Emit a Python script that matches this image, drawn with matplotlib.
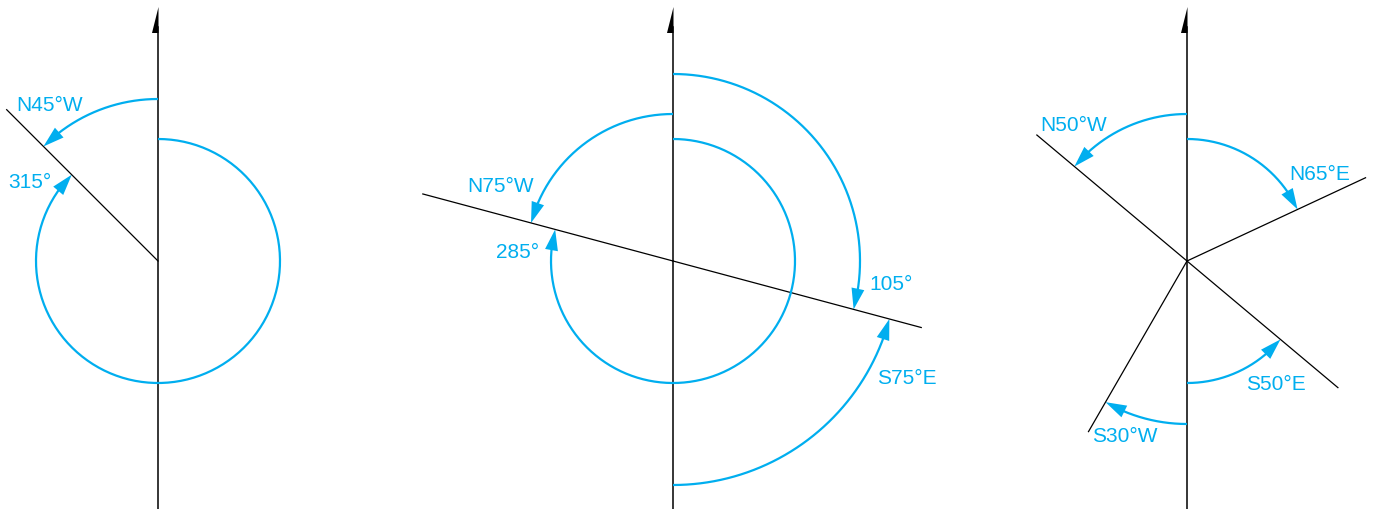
import numpy as np
import matplotlib.pyplot as plt
from matplotlib.patches import Polygon

plt.rcParams['font.family'] = ['Liberation Sans', 'DejaVu Sans']

CYAN = '#00aeef'

# panel centres (px) and north line extent
centers = [(158, 261), (673, 261), (1187, 261)]
north_top = 7

# black bearing lines: panel, bearing (deg clockwise from N), length
ray_panel = [0, 1, 1, 2, 2, 2, 2]
ray_bearing = [315, 285, 105, 310, 130, 65, 210]
ray_len = [214, 259, 257, 196, 197, 197, 197]

# cyan arcs: panel, radius, start bearing, end bearing
arc_panel = [0, 0, 1, 1, 1, 1, 2, 2, 2, 2]
arc_radius = [162, 122, 147, 122, 187, 224, 147, 122, 122, 163]
arc_start = [0, 0, 0, 0, 0, 180, 0, 0, 180, 180]
arc_end = [-45, 315, -75, 285, 105, 105, -50, 65, 130, 210]

labels = ['N45°W', '315°', 'N75°W', '285°', '105°', 'S75°E',
          'N50°W', 'N65°E', 'S50°E', 'S30°W']
label_xy = [(50, 105), (30, 183), (501, 186), (518, 253), (891, 285),
            (907, 378), (1074, 125), (1320, 174), (1276, 385), (1125, 436)]


def pt(c, r, b):
    t = np.radians(b)
    return c[0] + r * np.sin(t), c[1] - r * np.cos(t)


fig = plt.figure(figsize=(13.74, 5.09), dpi=100)
ax = fig.add_axes([0, 0, 1, 1])
ax.set_xlim(0, 1374)
ax.set_ylim(509, 0)
ax.axis('off')

# north lines with half arrowheads
for cx, cy in centers:
    ax.plot([cx, cx], [north_top + 20, 509], color='black', lw=1.1)
    ax.add_patch(Polygon([(cx + 0.5, north_top), (cx - 6, north_top + 26),
                          (cx + 0.5, north_top + 26)], closed=True,
                         facecolor='black', edgecolor='none'))

for p, b, L in zip(ray_panel, ray_bearing, ray_len):
    c = centers[p]
    x1, y1 = pt(c, L, b)
    ax.plot([c[0], x1], [c[1], y1], color='black', lw=0.9)

head_len, head_w = 21, 6.5
for p, r, b0, b1 in zip(arc_panel, arc_radius, arc_start, arc_end):
    c = centers[p]
    s = np.sign(b1 - b0)
    dtheta = np.degrees(head_len / r)
    bb = np.linspace(b0, b1 - s * dtheta * 0.9, 200)
    xs, ys = pt(c, r, bb)
    ax.plot(xs, ys, color=CYAN, lw=1.6, solid_capstyle='butt')
    # arrowhead
    tip = np.array(pt(c, r, b1))
    base = np.array(pt(c, r, b1 - s * dtheta))
    d = tip - base
    d /= np.hypot(*d)
    n = np.array([-d[1], d[0]])
    ax.add_patch(Polygon([tip, base + n * head_w, base - n * head_w],
                         closed=True, facecolor=CYAN, edgecolor='none'))

for t, (x, y) in zip(labels, label_xy):
    ax.text(x, y, t, color=CYAN, fontsize=15, ha='center', va='center')

fig.savefig('out.png', dpi=100)
